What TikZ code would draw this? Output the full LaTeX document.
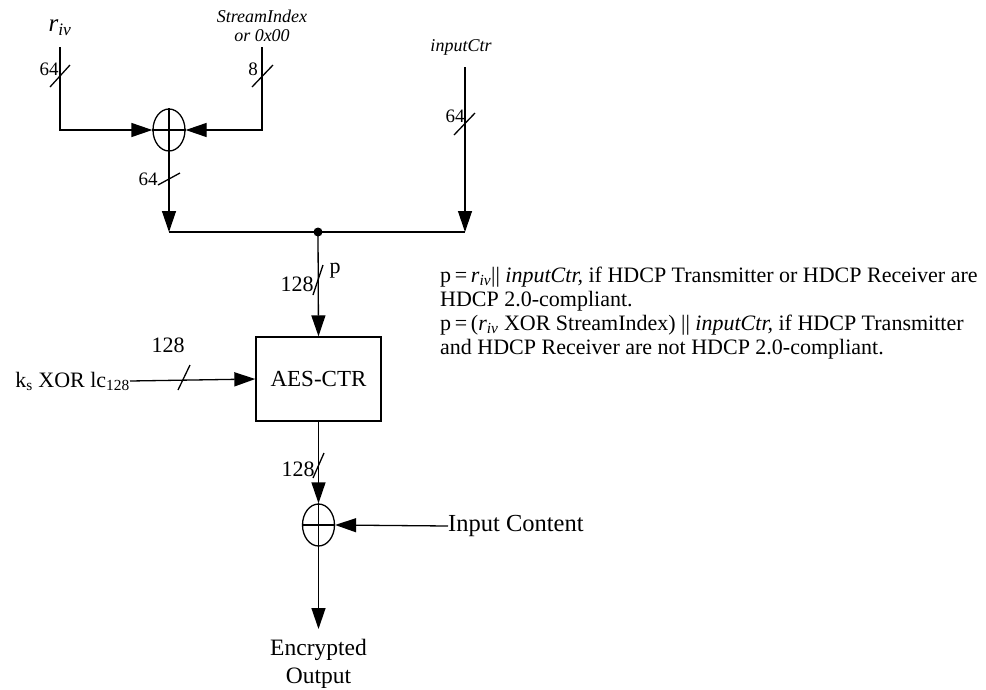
\documentclass[tikz,border=0pt]{standalone}
\usepackage{fontspec}
\setmainfont{Liberation Serif}
\usetikzlibrary{arrows.meta,shapes.geometric,calc}
\begin{document}
\begin{tikzpicture}[x=1pt,y=-1pt,
  wire/.style={line width=1.3pt},
  arr/.style={wire,-{Triangle[length=21pt,width=14pt]}},
  xorgate/.style={ellipse,draw,line width=1.3pt,minimum width=32pt,minimum height=42pt,inner sep=0pt},
  lbl/.style={font=\fontsize{19}{22}\selectfont,inner sep=0pt},
  mainlbl/.style={font=\fontsize{22}{24}\selectfont,inner sep=0pt},
  boxnode/.style={draw,line width=1.3pt,minimum width=125pt,minimum height=84pt,font=\fontsize{23}{26}\selectfont}]
\useasboundingbox (0,0) rectangle (986,689);

% top inputs
\node[lbl,font=\fontsize{25}{26}\selectfont\itshape] (rivl) at (60,28) {r\textsubscript{iv}};
\node[lbl,font=\fontsize{18}{20}\selectfont\itshape,align=center] (sil) at (262,26) {StreamIndex\\[-1pt]or 0x00};
\node[lbl,font=\fontsize{18}{20}\selectfont\itshape] (icl) at (461,47) {inputCtr};
\coordinate (rivt) at (60,47);
\coordinate (sit) at (262,47);
\coordinate (ict) at (465,67);

\node[xorgate] (x1) at (169,130) {};
\draw[wire] (x1.north) -- (x1.south) (x1.west) -- (x1.east);

\draw[arr] (rivt) |- (x1.west);
\draw[arr] (sit) |- (x1.east);

% bus
\coordinate (busl) at (169,232);
\coordinate (busr) at (465,232);
\coordinate (busm) at (318,232);
\draw[arr] (x1.south) -- (busl);
\draw[arr] (ict) -- (busr);
\draw[wire] (busl) -- (busr);
\fill (busm) circle (4.5pt);

% AES
\node[boxnode] (aes) at (318.5,379) {AES-CTR};
\draw[arr] (busm) -- (aes.north);
\node[mainlbl,anchor=east] (ks) at (130,381) {k\textsubscript{s} XOR lc\textsubscript{128}};
\draw[arr] (ks.east) -- (aes.west);

% output xor
\node[xorgate] (x2) at (318.5,525) {};
\draw[wire] (x2.north) -- (x2.south) (x2.west) -- (x2.east);
\draw[arr] (aes.south) -- (x2.north);
\node[anchor=west,inner sep=0pt,font=\fontsize{24.5}{26}\selectfont] (ic) at (448,526) {Input Content};
\draw[arr] (ic.west) -- (x2.east);
\coordinate (outt) at (318.5,629);
\draw[arr] (x2.south) -- (outt);
\node[align=center,anchor=north,inner sep=0pt,font=\fontsize{23.5}{28}\selectfont] (eo) at (318.5,639) {Encrypted\\Output};

% slashes
\draw[wire] (50,87) -- (70,65);
\node[lbl] (n1) at (49,69) {64};
\draw[wire] (252,87) -- (273,65);
\node[lbl] (n2) at (253,69) {8};
\draw[wire] (454,135) -- (475,113);
\node[lbl] (n3) at (455,116) {64};
\draw[wire] (158,185) -- (180,173);
\node[lbl] (n4) at (148,179) {64};
\draw[wire] (313,295) -- (323,265);
\node[mainlbl] (n5) at (297,284) {128};
\node[mainlbl] (pl) at (335,271) {p};
\draw[wire] (178,390) -- (190,365);
\node[mainlbl] (n6) at (168,345) {128};
\draw[wire] (313,478) -- (324,453);
\node[mainlbl] (n7) at (298,469) {128};

% explanatory text
\node[anchor=north west,inner sep=0pt,align=left,font=\fontsize{22}{24}\selectfont] (txt) at (440,267) {%
p\,=\,\textit{r}\textsubscript{\textit{iv}}|| \textit{inputCtr,} if HDCP Transmitter or HDCP Receiver are\\
HDCP 2.0-compliant.\\
p\,=\,(\textit{r}\textsubscript{\textit{iv}} XOR StreamIndex) || \textit{inputCtr,} if HDCP Transmitter\\
and HDCP Receiver are not HDCP 2.0-compliant.};
\end{tikzpicture}
\end{document}
